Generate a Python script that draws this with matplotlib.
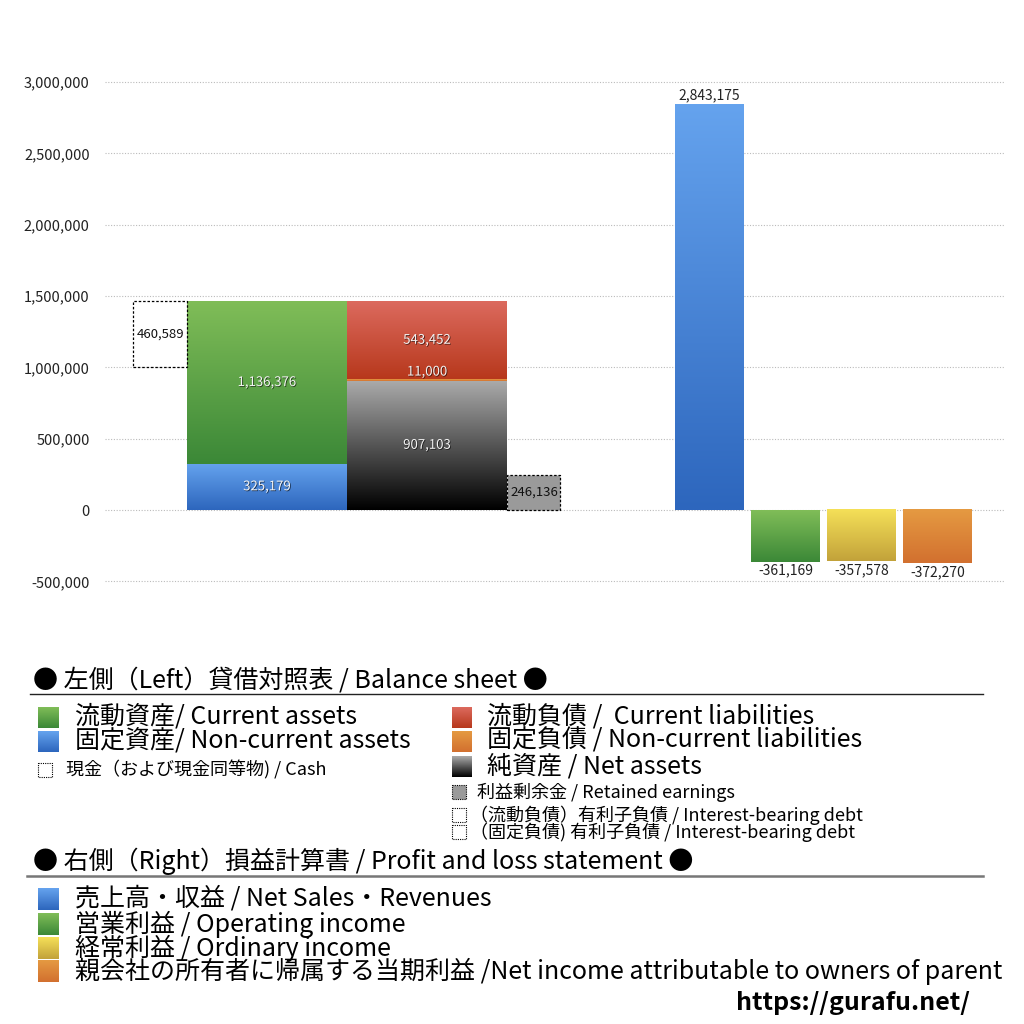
import matplotlib
matplotlib.use("Agg")
import matplotlib.pyplot as plt
import numpy as np
from matplotlib.colors import LinearSegmentedColormap
from matplotlib.patches import Rectangle
import matplotlib.patheffects as pe

plt.rcParams['font.family'] = ['Noto Sans CJK JP', 'DejaVu Sans']

# ---------------- data ----------------
current_assets = 1136376
noncurrent_assets = 325179
cash = 460589
current_liabilities = 543452
noncurrent_liabilities = 11000
net_assets = 907103
retained_earnings = 246136
pl_labels = ['売上高・収益', '営業利益', '経常利益', '当期利益']
pl_values = [2843175, -361169, -357578, -372270]
yticks = [-500000, 0, 500000, 1000000, 1500000, 2000000, 2500000, 3000000]

# ---------------- colours (top, bottom) ----------------
C_GREEN = ('#80bd58', '#3b8837')
C_BLUE = ('#65a3ee', '#2d66bd')
C_RED = ('#dc6a5e', '#b7381c')
C_ORANGE = ('#e59a42', '#d2702f')
C_BLACK = ('#ababab', '#000000')
C_YELLOW = ('#f5e058', '#c2a23a')
pl_colors = [C_BLUE, C_GREEN, C_YELLOW, C_ORANGE]

fig = plt.figure(figsize=(10.24, 10.24), dpi=100)
W, H = 1024, 1024
# axes spans pixel x 105..1005, y 60..620
ax = fig.add_axes([105 / W, 1 - 620 / H, 900 / W, 560 / H])
ppx = 500000 / 71.33
ax.set_ylim(-(620 - 510) * ppx, (510 - 60) * ppx)
ax.set_xlim(0, 900)
for s in ax.spines.values():
    s.set_visible(False)
ax.set_xticks([])
ax.set_yticks(yticks)
ax.set_yticklabels([f'{v:,}' for v in yticks], fontsize=10.5, color='#222222')
ax.tick_params(axis='y', length=0, pad=11)
ax.grid(axis='y', color='#bbbbbb', linestyle=(0, (1, 1.5)), linewidth=0.8)
ax.set_axisbelow(True)


def grad_bar(a, x0, w, y0, y1, colors, z=2):
    lo, hi = min(y0, y1), max(y0, y1)
    cmap = LinearSegmentedColormap.from_list('g', [colors[1], colors[0]])
    g = np.linspace(0, 1, 256).reshape(-1, 1)
    a.imshow(g, cmap=cmap, origin='lower', extent=(x0, x0 + w, lo, hi),
             aspect='auto', zorder=z, interpolation='bilinear')


shadow = [pe.withSimplePatchShadow(offset=(0.6, -0.6), shadow_rgbFace='#000000', alpha=0.6)]


def inner_label(x, y, v, dy=0):
    ax.annotate(f'{v:,}', (x, y), xytext=(0, dy), textcoords='offset points',
                ha='center', va='center', fontsize=9.5, color='#f4f4f4',
                path_effects=shadow, zorder=5)


# assets column
ax_x, bw = 82, 160
grad_bar(ax, ax_x, bw, 0, noncurrent_assets, C_BLUE)
grad_bar(ax, ax_x, bw, noncurrent_assets, noncurrent_assets + current_assets, C_GREEN)
inner_label(ax_x + bw / 2, noncurrent_assets / 2, noncurrent_assets)
inner_label(ax_x + bw / 2, noncurrent_assets + current_assets / 2, current_assets)
total_assets = noncurrent_assets + current_assets

# cash dashed box
cx, cw = 28, 54
ax.add_patch(Rectangle((cx, total_assets - cash), cw, cash, fill=False,
                       edgecolor='black', linestyle=(0, (2, 1.5)), linewidth=0.9, zorder=3))
ax.text(cx + cw / 2 + 1, total_assets - cash / 2, f'{cash:,}', ha='center', va='center',
        fontsize=9.5, color='#111111', zorder=5)

# liabilities / net assets column
lx = 242
grad_bar(ax, lx, bw, 0, net_assets, C_BLACK)
grad_bar(ax, lx, bw, net_assets, net_assets + noncurrent_liabilities, C_ORANGE)
grad_bar(ax, lx, bw, net_assets + noncurrent_liabilities,
         net_assets + noncurrent_liabilities + current_liabilities, C_RED)
inner_label(lx + bw / 2, net_assets / 2, net_assets)
inner_label(lx + bw / 2, net_assets + noncurrent_liabilities + current_liabilities / 2,
            current_liabilities)
inner_label(lx + bw / 2, net_assets + noncurrent_liabilities, noncurrent_liabilities, dy=5)

# retained earnings
rx, rw = 402, 53
ax.add_patch(Rectangle((rx, 0), rw, retained_earnings, facecolor='#9a9a9a',
                       edgecolor='black', linestyle=(0, (2, 1.5)), linewidth=0.9, zorder=3))
ax.text(rx + rw / 2 + 1, retained_earnings / 2, f'{retained_earnings:,}', ha='center',
        va='center', fontsize=9.5, color='#111111', zorder=5)

# P&L bars
pl_x = [570, 646, 722, 798]
pw = 69
for x, v, c in zip(pl_x, pl_values, pl_colors):
    grad_bar(ax, x, pw, 0, v, c)
    if v >= 0:
        ax.annotate(f'{v:,}', (x + pw / 2, v), xytext=(0, 1.5), textcoords='offset points',
                    ha='center', va='bottom', fontsize=10, color='#222222')
    else:
        ax.annotate(f'{v:,}', (x + pw / 2, v), xytext=(0, -1.5), textcoords='offset points',
                    ha='center', va='top', fontsize=10, color='#222222')

# ---------------- legend area (overlay in pixel coords) ----------------
lg = fig.add_axes([0, 0, 1, 1], facecolor='none')
lg.set_xlim(0, W)
lg.set_ylim(H, 0)
lg.axis('off')


def dashed_sw(x, y, w, h, face=None):
    lg.add_patch(Rectangle((x, y), w, h, facecolor=face if face else 'none',
                           edgecolor='black', linestyle=(0, (1, 1)), linewidth=0.8))


def grad_sw(x, y, w, h, colors):
    cmap = LinearSegmentedColormap.from_list('g', [colors[0], colors[1]])
    g = np.linspace(0, 1, 64).reshape(-1, 1)
    lg.imshow(g, cmap=cmap, origin='upper', extent=(x, x + w, y + h, y),
              aspect='auto', interpolation='bilinear')


big = 18
small = 13
lg.text(33, 680, '● 左側（Left）貸借対照表 / Balance sheet ●', fontsize=18, va='center', ha='left')
lg.plot([30, 983], [694, 694], color='#222222', linewidth=1)

rows_left = [('流動資産/ Current assets', C_GREEN, 717),
             ('固定資産/ Non-current assets', C_BLUE, 741)]
for t, c, y in rows_left:
    grad_sw(38, y - 10, 21, 21, c)
    lg.text(75, y, t, fontsize=big, va='center', ha='left')
dashed_sw(38, 763, 14, 14)
lg.text(66, 770, '現金（および現金同等物) / Cash', fontsize=small, va='center', ha='left')

rows_right = [('流動負債 /  Current liabilities', C_RED, 717),
              ('固定負債 / Non-current liabilities', C_ORANGE, 741),
              ('純資産 / Net assets', C_BLACK, 766)]
for t, c, y in rows_right:
    grad_sw(452, y - 10, 20, 21, c)
    lg.text(487, y, t, fontsize=big, va='center', ha='left')
dashed_sw(452, 785, 14, 14, face='#9a9a9a')
lg.text(477, 792, '利益剰余金 / Retained earnings', fontsize=small, va='center', ha='left')
dashed_sw(452, 808, 14, 14)
lg.text(470, 815, '（流動負債）有利子負債 / Interest-bearing debt', fontsize=small, va='center', ha='left')
dashed_sw(452, 825, 14, 14)
lg.text(470, 832, '（固定負債) 有利子負債 / Interest-bearing debt', fontsize=small, va='center', ha='left')

lg.text(33, 861, '● 右側（Right）損益計算書 / Profit and loss statement ●', fontsize=18, va='center', ha='left')
lg.plot([27, 983], [876, 876], color='#777777', linewidth=1.8)

rows_pl = [('売上高・収益 / Net Sales・Revenues', C_BLUE, 899),
           ('営業利益 / Operating income', C_GREEN, 924),
           ('経常利益 / Ordinary income', C_YELLOW, 948),
           ('親会社の所有者に帰属する当期利益 /Net income attributable to owners of parent', C_ORANGE, 971)]
for t, c, y in rows_pl:
    grad_sw(38, y - 11, 21, 22, c)
    lg.text(75, y, t, fontsize=big, va='center', ha='left')

lg.text(970, 1003, 'https://gurafu.net/', fontsize=18, fontweight='bold', va='center', ha='right')

fig.savefig('out.png', dpi=100)
